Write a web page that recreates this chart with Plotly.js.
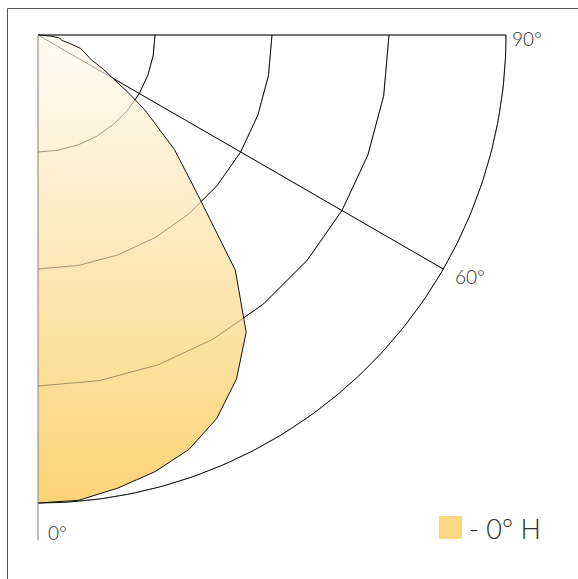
<!DOCTYPE html>
<html><head><meta charset="utf-8">
<script src="https://cdn.plot.ly/plotly-3.0.1.min.js"></script>
<style>html,body{margin:0;padding:0;background:#fff;overflow:hidden;} #chart{width:578px;height:579px;}</style>
</head><body><div id="chart"></div>
<script>
// Luminous intensity distribution, C-plane 0°-H (angle from nadir in degrees, relative intensity)
const angles = [0,5,10,15,20,25,30,35,40,45,50,55,57.5,60,62.5,65,67.5,70,72.5,75,77.5,80,82.5,85,87.5,90];
const intensity = [200,199.6,196.6,193.2,188.5,180.8,169.7,155.1,131.2,96.6,76.1,55.6,45.5,37.6,31.2,25.2,22.9,21.2,19.2,14.1,10.3,9.8,9.0,5.6,2.6,0];
const gridRadii = [50,100,150,200];
const radialLineAngles = [60,90];
const axisAngle = 0;
const angleLabels = ['0°','60°','90°'];
const angleLabelAngles = [0,60,90];
const seriesName = '- 0° H';

// layout constants (pixels)
const W = 578, H = 579, OX = 38, OY = 35, RPX = 468;
const rMax = gridRadii[gridRadii.length-1];
const pxPerUnit = RPX / rMax;

const rad = d => d*Math.PI/180;
const px = (r,a) => r*Math.sin(rad(a));
const py = (r,a) => -r*Math.cos(rad(a));

const gridColor = '#1e1e1e';
const traces = [];

function arcTrace(r, color){
  const step = (r === rMax) ? 1 : 10;
  const xs=[], ys=[];
  for(let a=0;a<=90;a+=step){ xs.push(px(r,a)); ys.push(py(r,a)); }
  return {x:xs,y:ys,mode:'lines',line:{color:color,width:1},hoverinfo:'skip',showlegend:false};
}
function rayTrace(a, len, color){
  return {x:[0,px(len,a)],y:[0,py(len,a)],mode:'lines',line:{color:color,width:1},hoverinfo:'skip',showlegend:false};
}

// grid below the fill
gridRadii.forEach(r=>traces.push(arcTrace(r, gridColor)));
radialLineAngles.forEach(a=>traces.push(rayTrace(a, rMax, gridColor)));

// filled intensity curve with vertical gradient
const cx = angles.map((a,i)=>px(intensity[i],a));
const cy = angles.map((a,i)=>py(intensity[i],a));
traces.push({
  x: cx, y: cy, mode:'lines', name: seriesName, showlegend:false,
  fill:'toself',
  fillgradient:{type:'vertical', colorscale:[[0,'rgb(252,212,118)'],[0.5,'rgb(253,231,182)'],[1,'rgb(255,252,246)']]},
  line:{color:'rgba(0,0,0,0)',width:0}, hoverinfo:'skip'
});

// grid seen through the fill (lighter)
const faint = 'rgba(0,0,0,0.36)';
gridRadii.forEach(r=>traces.push(arcTrace(r, faint)));
radialLineAngles.forEach(a=>traces.push(rayTrace(a, rMax, faint)));

// outline of the curve
traces.push({x:cx,y:cy,mode:'lines',line:{color:'#111',width:1},hoverinfo:'skip',showlegend:false});

// 0° axis (grey, extended)
traces.push(rayTrace(axisAngle, rMax*1.08, '#808080'));

const labelOffsets = {0:[8,-29], 60:[10,-7], 90:[4,-3]};
const fontFam = 'Lato, "Open Sans", sans-serif';
const annotations = angleLabelAngles.map((a,i)=>({
  x: px(rMax,a), y: py(rMax,a), xref:'x', yref:'y', text: angleLabels[i], showarrow:false,
  xanchor:'left', yanchor:'middle', xshift: labelOffsets[a][0], yshift: labelOffsets[a][1],
  font:{family:fontFam, size:19, color:'#2e2e2e', weight:300}
}));
annotations.push({
  x: 467/W, y: 1-528/H, xref:'paper', yref:'paper', text: seriesName, showarrow:false,
  xanchor:'left', yanchor:'middle', font:{family:fontFam, size:27, color:'#2e2e2e', weight:300}
});

const layout = {
  width:W, height:H, autosize:false,
  margin:{l:0,r:0,t:0,b:0,pad:0},
  paper_bgcolor:'#fff', plot_bgcolor:'#fff',
  xaxis:{range:[-OX/pxPerUnit,(W-OX)/pxPerUnit],visible:false,fixedrange:true},
  yaxis:{range:[-(H-OY)/pxPerUnit,OY/pxPerUnit],visible:false,fixedrange:true},
  showlegend:false,
  annotations: annotations,
  shapes:[
    {type:'rect', xref:'paper', yref:'paper', x0:7.5/W, x1:1.1, y0:1-8.5/H, y1:-0.1, line:{color:'#555',width:1}, fillcolor:'rgba(0,0,0,0)', layer:'above'},
    {type:'rect', xref:'paper', yref:'paper', x0:439/W, x1:462/W, y0:1-516/H, y1:1-539/H, line:{width:0}, fillcolor:'#fcd783'}
  ]
};
Plotly.newPlot('chart', traces, layout, {staticPlot:true, displayModeBar:false});
</script></body></html>
